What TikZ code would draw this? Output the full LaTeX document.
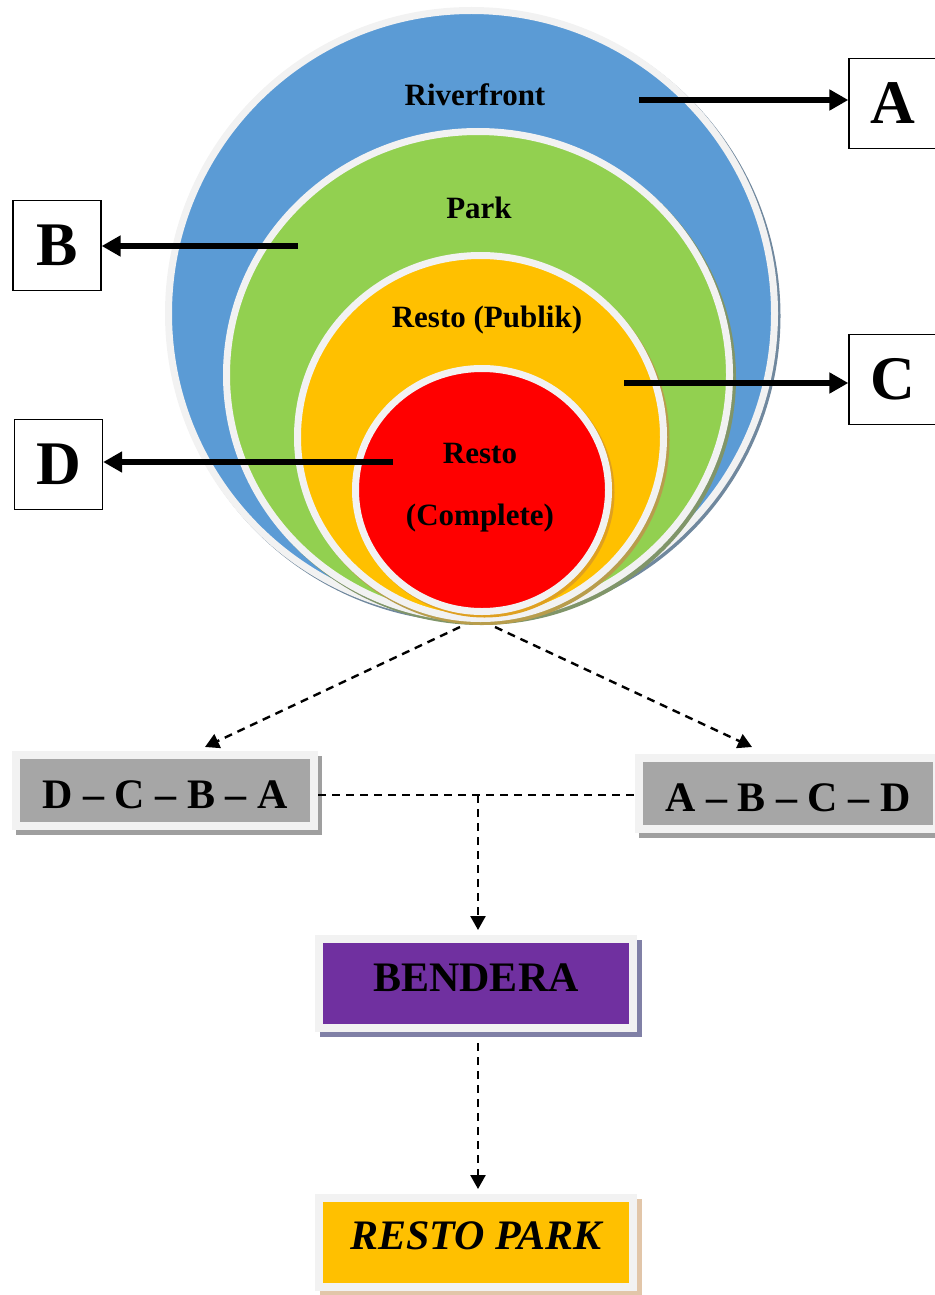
\documentclass[tikz,border=0pt]{standalone}
\usepackage{fontspec}
\setmainfont{Liberation Serif}
\usetikzlibrary{positioning,calc,arrows.meta,shapes.geometric}
\definecolor{riverblue}{HTML}{5B9BD5}
\definecolor{parkgreen}{HTML}{92D050}
\definecolor{restoorange}{HTML}{FFC000}
\definecolor{restored}{HTML}{FF0000}
\definecolor{ringgray}{HTML}{F2F2F2}
\definecolor{stepgray}{HTML}{A6A6A6}
\definecolor{flagpurple}{HTML}{7030A0}

\begin{document}
\begin{tikzpicture}[x=1pt,y=-1pt,
    zone/.style={ellipse,draw=ringgray,line width=7pt,inner sep=0pt},
    zlabel/.style={font=\fontsize{31}{37}\selectfont\bfseries},
    letterbox/.style={rectangle,draw,line width=1.3pt,fill=white,minimum width=88pt,minimum height=90pt,font=\fontsize{62}{70}\selectfont\bfseries},
    ptr/.style={-{Triangle[length=19pt,width=20pt]},line width=6pt},
    flow/.style={-{Triangle[length=14pt,width=15pt]},dash pattern=on 8pt off 6pt,line width=2.4pt},
    flowline/.style={dash pattern=on 8pt off 6pt,line width=2.4pt},
    stepbox/.style={rectangle,draw=ringgray,line width=8pt,minimum width=298pt,minimum height=71pt,inner sep=0pt,text height=36pt,text depth=0pt,font=\fontsize{42}{50}\selectfont\bfseries},
    flagbox/.style={rectangle,draw=ringgray,line width=8pt,minimum width=314pt,minimum height=89pt,inner sep=0pt,text height=28pt,text depth=12pt,font=\fontsize{42}{50}\selectfont\bfseries}]
\useasboundingbox (0,0) rectangle (934,1295);

% Zones (shadow first)
\node[zone,draw=riverblue!55!black!70,fill=riverblue!55!black!70,minimum width=606pt,minimum height=606pt] (river-sh) at (474,316) {};
\node[zone,fill=riverblue,minimum width=606pt,minimum height=606pt] (river) at (471.5,313.5) {};
\node[zone,draw=parkgreen!50!black!70,fill=parkgreen!50!black!70,minimum width=503pt,minimum height=487pt] (park-sh) at (481,378) {};
\node[zone,fill=parkgreen,minimum width=503pt,minimum height=487pt] (park) at (478,375) {};
\node[zone,draw=restoorange!60!black!70,fill=restoorange!60!black!70,minimum width=366pt,minimum height=363pt] (publik-sh) at (483,440) {};
\node[zone,fill=restoorange,minimum width=366pt,minimum height=363pt] (publik) at (480.5,437) {};
\node[zone,draw=restoorange!50!brown,fill=restoorange!50!brown,minimum width=253pt,minimum height=243pt] (complete-sh) at (484.5,492.5) {};
\node[zone,fill=restored,minimum width=253pt,minimum height=243pt] (complete) at (482,490) {};

\node[zlabel] (lriver) at (475,95) {Riverfront};
\node[zlabel] (lpark) at (479,208) {Park};
\node[zlabel] (lpublik) at (487,320) {Resto (Publik)};
\node[zlabel] (lresto) at (480,453) {Resto};
\node[zlabel] (lcomplete) at (480,518) {(Complete)};

% Letters
\node[letterbox] (boxA) at (893,103.5) {A};
\node[letterbox] (boxB) at (57,245.5) {B};
\node[letterbox] (boxC) at (893,379.5) {C};
\node[letterbox] (boxD) at (58.5,464.5) {D};

\coordinate (pA) at (639,100);
\coordinate (pB) at (298,246);
\coordinate (pC) at (624,383);
\coordinate (pD) at (393,462);
\draw[ptr] (pA) -- (pA -| boxA.west);
\draw[ptr] (pB) -- (pB -| boxB.east);
\draw[ptr] (pC) -- (pC -| boxC.west);
\draw[ptr] (pD) -- (pD -| boxD.east);

% Order boxes
\node[stepbox,draw=gray!75,fill=gray!75] (dcba-sh) at (169,795) {};
\node[stepbox,fill=stepgray] (dcba) at (165,790) {D – C – B – A};
\node[stepbox,draw=gray!75,fill=gray!75] (abcd-sh) at (792,798) {};
\node[stepbox,fill=stepgray] (abcd) at (788,793) {A – B – C – D};

\coordinate (bottomL) at (460,627);
\coordinate (bottomR) at (495,627);
\coordinate (tipL) at (205,747);
\coordinate (tipR) at (752,747);
\draw[flow] (bottomL) -- (tipL);
\draw[flow] (bottomR) -- (tipR);

\coordinate (join) at (478,795);
\draw[flowline] (dcba.east |- join) -- (abcd.west |- join);

% Result
\node[flagbox,draw=black!25!blue!25!gray!80,fill=black!25!blue!25!gray!80] (bendera-sh) at (481,988.5) {};
\node[flagbox,fill=flagpurple] (bendera) at (476,983.5) {BENDERA};
\node[flagbox,draw=brown!45!white,fill=brown!45!white] (restopark-sh) at (481,1247.5) {};
\node[flagbox,fill=restoorange,text depth=14pt,font=\fontsize{42}{50}\selectfont\bfseries\itshape] (restopark) at (476,1242.5) {RESTO PARK};

\draw[flow,shorten >=5pt] (join) -- (join |- bendera.north);
\coordinate (down) at (478,1043);
\draw[flow,shorten >=5pt] (down) -- (down |- restopark.north);

\end{tikzpicture}
\end{document}
